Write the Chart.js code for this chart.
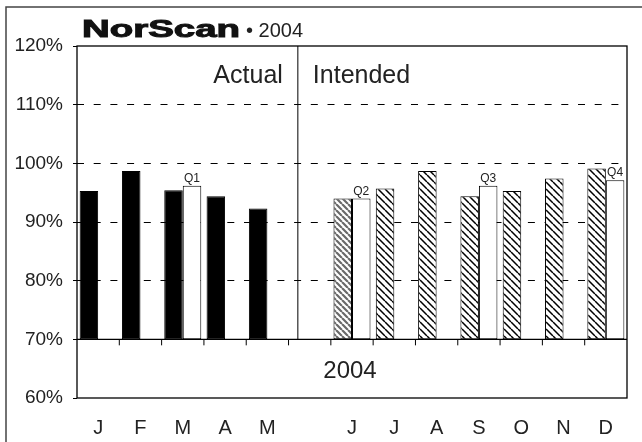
<!DOCTYPE html>
<html>
<head>
<meta charset="utf-8">
<script src="https://cdn.jsdelivr.net/npm/chart.js@4/dist/chart.umd.min.js"></script>
<style>
  html, body { margin: 0; padding: 0; background: #fff; }
  #marco { width: 642px; height: 442px; }
</style>
</head>
<body>
<div id="marco"><canvas id="graficoNorscan" width="642" height="442"></canvas></div>
<script>
// datos (porcentaje)
const meses = ['J', 'F', 'M', 'A', 'M', '', 'J', 'J', 'A', 'S', 'O', 'N', 'D'];
const valoresMensuales = [95.3, 98.7, 95.4, 94.4, 92.3, null, 94.0, 95.7, 98.7, 94.4, 95.3, 97.4, 99.1];
const valoresTrimestrales = [null, null, 96.2, null, null, null, 94.0, null, null, 96.2, null, null, 97.1];
const etiquetasTrimestre = [null, null, 'Q1', null, null, null, 'Q2', null, null, 'Q3', null, null, 'Q4'];
const tipoMes = ['real', 'real', 'real', 'real', 'real', null, 'junio', 'plan', 'plan', 'plan', 'plan', 'plan', 'plan'];
const ticksEje = [60, 70, 80, 90, 100, 110, 120];
const lineasGuia = [70, 80, 90, 100, 110];
const base = 70;
const titulo = 'NorScan';
const subtitulo = '2004';
const textoBanda = '2004';
const textoReal = 'Actual';
const textoPlan = 'Intended';

const fuente = "'Liberation Sans', Arial, sans-serif";
const tinta = '#222';

function crearTrama(tam, color, grosor) {
    const c = document.createElement('canvas');
    c.width = tam;
    c.height = tam;
    const g = c.getContext('2d');
    g.fillStyle = '#fff';
    g.fillRect(0, 0, tam, tam);
    g.strokeStyle = color;
    g.lineWidth = grosor;
    g.beginPath();
    for (let k = -1; k <= 1; k++) {
        g.moveTo(k * tam, 0);
        g.lineTo(k * tam + tam, tam);
    }
    g.stroke();
    return g.createPattern(c, 'repeat');
}

const tramaPlan = crearTrama(7, '#000', 1.5);
const tramaJunio = crearTrama(6, '#6a6a6a', 2.2);

const rellenos = tipoMes.map(t => {
    if (t === 'real') return '#000';
    if (t === 'junio') return tramaJunio;
    return tramaPlan;
});

const decoracion = {
    id: 'decoracion',
    beforeDraw(chart) {
        const ctx = chart.ctx;
        ctx.save();
        ctx.fillStyle = '#fff';
        ctx.fillRect(0, 0, chart.width, chart.height);
        // marco exterior (recortado a la derecha y abajo)
        ctx.strokeStyle = '#444';
        ctx.lineWidth = 1.5;
        ctx.beginPath();
        ctx.moveTo(6, chart.height);
        ctx.lineTo(6, 7);
        ctx.lineTo(chart.width, 7);
        ctx.stroke();
        ctx.restore();
    },
    afterDatasetsDraw(chart) {
        const ctx = chart.ctx;
        const area = chart.chartArea;
        const x = chart.scales.x;
        const y = chart.scales.y;
        const y70 = y.getPixelForValue(base);
        const y60 = y.getPixelForValue(y.min);
        ctx.save();
        ctx.strokeStyle = '#000';
        ctx.lineWidth = 1.3;
        ctx.strokeRect(area.left, area.top, area.right - area.left, area.bottom - area.top);

        // linea base 70%
        ctx.beginPath();
        ctx.moveTo(area.left, y70);
        ctx.lineTo(area.right, y70);
        ctx.stroke();

        // marcas entre meses
        ctx.lineWidth = 1;
        ctx.beginPath();
        for (let i = 0; i < meses.length - 1; i++) {
            const px = (x.getPixelForValue(i) + x.getPixelForValue(i + 1)) / 2;
            ctx.moveTo(px, y70);
            ctx.lineTo(px, y70 + 6);
        }
        ctx.stroke();

        // separador real / previsto
        const xSep = x.getPixelForValue(4.72);
        ctx.beginPath();
        ctx.moveTo(xSep, area.top);
        ctx.lineTo(xSep, y70);
        ctx.stroke();

        ctx.fillStyle = tinta;
        ctx.font = '25px ' + fuente;
        ctx.textBaseline = 'alphabetic';
        ctx.textAlign = 'right';
        ctx.fillText(textoReal, xSep - 15, 83);
        ctx.textAlign = 'left';
        ctx.fillText(textoPlan, xSep + 15, 83);

        // texto de la banda inferior
        ctx.font = '24px ' + fuente;
        ctx.textAlign = 'center';
        ctx.textBaseline = 'middle';
        ctx.fillText(textoBanda, (area.left + area.right) / 2 - 2, (y60 + y70) / 2 + 3);

        // etiquetas de trimestre
        const meta = chart.getDatasetMeta(1);
        ctx.font = '12px ' + fuente;
        ctx.textBaseline = 'alphabetic';
        meta.data.forEach((barra, i) => {
            if (!etiquetasTrimestre[i] || valoresTrimestrales[i] === null) return;
            ctx.fillText(etiquetasTrimestre[i], barra.x, barra.y - 4);
        });

        // titulo
        ctx.fillStyle = '#111';
        ctx.strokeStyle = '#111';
        ctx.textAlign = 'left';
        ctx.font = 'bold 24px ' + fuente;
        const ancho = ctx.measureText(titulo).width;
        const escala = 158 / ancho;
        ctx.save();
        ctx.translate(82, 37);
        ctx.scale(escala, 1);
        ctx.lineWidth = 1;
        ctx.fillText(titulo, 0, 0);
        ctx.strokeText(titulo, 0, 0);
        ctx.restore();
        ctx.font = '20px ' + fuente;
        ctx.fillStyle = tinta;
        ctx.fillText('\u2022 ' + subtitulo, 82 + 160 + 4, 37);
        ctx.restore();
    }
};

new Chart(document.getElementById('graficoNorscan'), {
    type: 'bar',
    data: {
        labels: meses,
        datasets: [{
            label: 'Mensual',
            data: valoresMensuales.map(v => v === null ? null : [base, v]),
            backgroundColor: rellenos,
            borderColor: '#000',
            borderWidth: 1,
            borderSkipped: false
        }, {
            label: 'Trimestral',
            data: valoresTrimestrales.map(v => v === null ? null : [base, v]),
            backgroundColor: '#fff',
            borderColor: '#000',
            borderWidth: 1,
            borderSkipped: false
        }]
    },
    options: {
        responsive: false,
        animation: false,
        categoryPercentage: 0.875,
        barPercentage: 1,
        layout: {
            padding: { top: 46, right: 15, left: 0, bottom: 0 }
        },
        scales: {
            x: {
                grid: { display: false },
                border: { display: false },
                ticks: {
                    color: tinta,
                    font: { family: fuente, size: 20 },
                    padding: 10,
                    autoSkip: false,
                    maxRotation: 0
                },
                afterFit: s => { s.height = 44; }
            },
            y: {
                min: 60,
                max: 120,
                afterBuildTicks: s => { s.ticks = ticksEje.map(v => ({ value: v })); },
                ticks: {
                    color: tinta,
                    font: { family: fuente, size: 19 },
                    padding: 10,
                    callback: v => v + '%'
                },
                grid: {
                    color: c => (c.tick && lineasGuia.includes(c.tick.value)) ? '#000' : 'rgba(0,0,0,0)',
                    lineWidth: 1,
                    tickLength: 4,
                    tickColor: '#000'
                },
                border: { display: false, dash: [7, 9.7] },
                afterFit: s => { s.width = 77; }
            }
        },
        plugins: {
            legend: { display: false },
            tooltip: { enabled: false }
        }
    },
    plugins: [decoracion]
});
</script>
</body>
</html>
